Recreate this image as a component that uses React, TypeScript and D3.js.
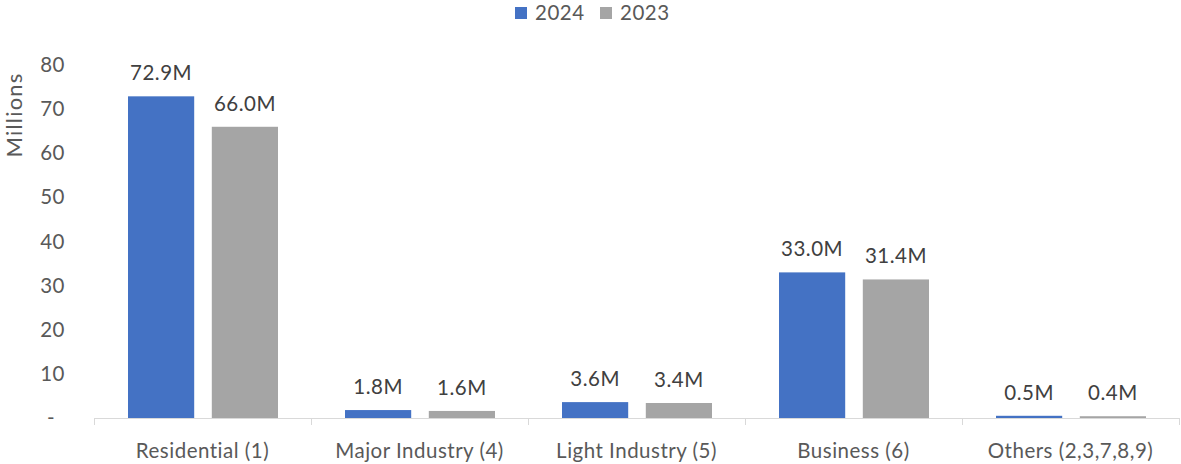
import React from "react";
import * as d3 from "d3";

const categories = ["Residential (1)", "Major Industry (4)", "Light Industry (5)", "Business (6)", "Others (2,3,7,8,9)"];
const series2024 = [72.9, 1.8, 3.6, 33.0, 0.5];
const series2023 = [66.0, 1.6, 3.4, 31.4, 0.4];
const seriesNames = ["2024", "2023"];
const seriesColors = ["#4472C4", "#A5A5A5"];
const yTicks = [0, 10, 20, 30, 40, 50, 60, 70, 80];

const W = 1181, H = 464;
const FONT = "Lato, sans-serif";
const TEXT = "#595959";
const FS = 20.5;
const LS = 0.5;

export default function App() {
  const x0 = d3.scaleBand<string>().domain(categories).range([94, 1179]).paddingInner(0).paddingOuter(0);
  const y = d3.scaleLinear().domain([0, 80]).range([418, 65]);
  const x1 = d3.scaleBand<string>().domain(seriesNames).range([34, x0.bandwidth() - 33]).paddingInner(0.21);
  const data = [series2024, series2023];

  return (
    <svg width={W} height={H} style={{ position: "absolute", left: 0, top: 0 }}>
      {/* legend */}
      {seriesNames.map((s, i) => (
        <g key={s} transform={`translate(${515 + i * 85},0)`}>
          <rect x={0} y={7} width={12} height={12} fill={seriesColors[i]} />
          <text x={20} y={20} fontFamily={FONT} fontSize={FS} letterSpacing={LS} fill={TEXT}>{s}</text>
        </g>
      ))}
      {/* y axis label */}
      <text transform={`translate(22,115) rotate(-90)`} textAnchor="middle" fontFamily={FONT} fontSize={22} letterSpacing={1.2} fill={TEXT}>Millions</text>
      {/* y ticks */}
      {yTicks.map((t) => (
        <text key={t} x={t === 0 ? 51 : 65} y={y(t) + 7} textAnchor={t === 0 ? "middle" : "end"} fontFamily={FONT} fontSize={FS} letterSpacing={LS} fill={TEXT}>
          {t === 0 ? "-" : t}
        </text>
      ))}
      {/* bars */}
      {categories.map((c, ci) => (
        <g key={c} transform={`translate(${x0(c)},0)`}>
          {seriesNames.map((s, si) => {
            const v = data[si][ci];
            const bx = x1(s)!;
            return (
              <g key={s}>
                <rect x={bx} y={y(v)} width={x1.bandwidth()} height={y(0) - y(v)} fill={seriesColors[si]} />
                <text x={bx + x1.bandwidth() / 2} y={y(v) - 16} textAnchor="middle" fontFamily={FONT} fontSize={FS} letterSpacing={LS} fill="#404040">
                  {v.toFixed(1) + "M"}
                </text>
              </g>
            );
          })}
        </g>
      ))}
      {/* x axis */}
      <line x1={94} x2={1179} y1={418.5} y2={418.5} stroke="#D9D9D9" strokeWidth={1} />
      {categories.map((c, i) => (
        <line key={"t" + i} x1={x0(c)! + 0.5} x2={x0(c)! + 0.5} y1={418} y2={425} stroke="#D9D9D9" />
      ))}
      <line x1={1179.5} x2={1179.5} y1={418} y2={425} stroke="#D9D9D9" />
      {categories.map((c) => (
        <text key={c} x={x0(c)! + x0.bandwidth() / 2} y={458} textAnchor="middle" fontFamily={FONT} fontSize={FS} letterSpacing={LS} fill={TEXT}>{c}</text>
      ))}
    </svg>
  );
}
